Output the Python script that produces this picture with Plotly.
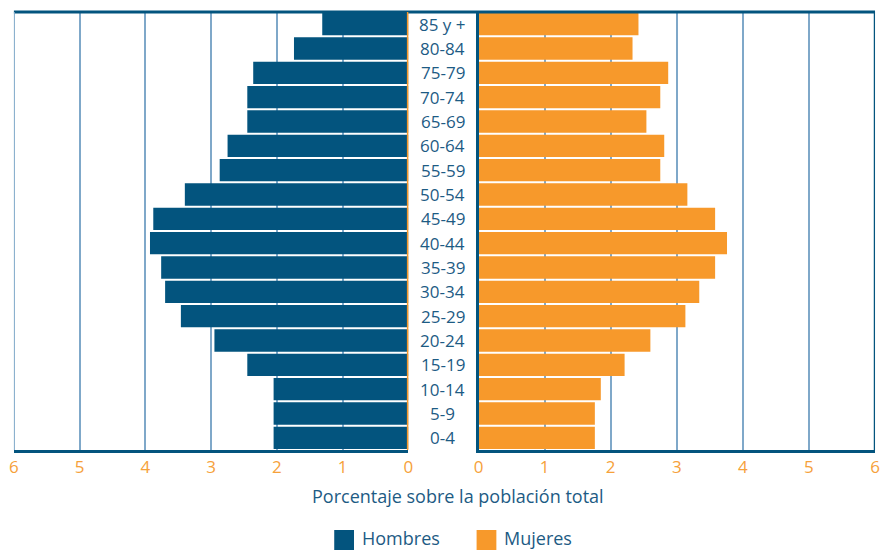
import plotly.graph_objects as go

# Age groups, bottom to top
grupos = ["0-4", "5-9", "10-14", "15-19", "20-24", "25-29", "30-34", "35-39",
          "40-44", "45-49", "50-54", "55-59", "60-64", "65-69", "70-74",
          "75-79", "80-84", "85 y +"]

# Percentage of total population
hombres = [2.05, 2.05, 2.05, 2.45, 2.95, 3.46, 3.70, 3.76, 3.93, 3.88,
           3.40, 2.87, 2.75, 2.45, 2.45, 2.36, 1.74, 1.31]
mujeres = [1.76, 1.76, 1.85, 2.21, 2.60, 3.13, 3.34, 3.58, 3.76, 3.58,
           3.16, 2.75, 2.81, 2.54, 2.75, 2.87, 2.33, 2.42]

ticks = [0, 1, 2, 3, 4, 5, 6]

AZUL = "#03547e"
NARANJA = "#f7992b"
GRID = "#7fa8c9"
TEXTO = "#1d5b84"
TICK = "#f6a13a"
FONT = "Open Sans"

W, H = 882, 551
T, B = 12, 101
PH = H - T - B


def py(pix):
    """Convert a pixel row into paper y."""
    return (H - B - pix) / PH


fig = go.Figure()
fig.add_trace(go.Bar(y=grupos, x=hombres, orientation="h", marker_color=AZUL,
                     marker_line_width=0, xaxis="x", yaxis="y", showlegend=False))
fig.add_trace(go.Bar(y=grupos, x=mujeres, orientation="h", marker_color=NARANJA,
                     marker_line_width=0, xaxis="x2", yaxis="y2", showlegend=False))

axis_common = dict(
    tickvals=ticks, ticktext=[str(t) for t in ticks],
    tickfont=dict(family=FONT, size=17, color=TICK),
    showgrid=True, gridcolor=GRID, gridwidth=1.5, zeroline=False,
    showline=True, linecolor=AZUL, linewidth=3, ticks="", fixedrange=True,
)

fig.update_layout(
    width=W, height=H,
    margin=dict(l=0, r=0, t=T, b=B),
    paper_bgcolor="white", plot_bgcolor="white",
    bargap=0.08,
    xaxis=dict(domain=[9 / W, 408 / W], range=[6, 0], anchor="y", **axis_common),
    xaxis2=dict(domain=[479 / W, 880 / W], range=[0, 6], anchor="y2", **axis_common),
    yaxis=dict(categoryorder="array", categoryarray=grupos, range=[-0.5, 17.5],
               showticklabels=False, showgrid=False, zeroline=False, anchor="x"),
    yaxis2=dict(categoryorder="array", categoryarray=grupos, range=[-0.5, 17.5],
                showticklabels=False, showgrid=False, zeroline=False, anchor="x2",
                showline=True, linecolor=AZUL, linewidth=3),
    font=dict(family=FONT),
)

shapes = [
    # top border across both panels
    dict(type="line", xref="paper", yref="paper", x0=9 / W, x1=880 / W, y0=1, y1=1,
         line=dict(color=AZUL, width=3)),
    # left panel outer edge
    dict(type="line", xref="x", yref="paper", x0=6, x1=6, y0=0, y1=1,
         line=dict(color=GRID, width=2)),
    # left panel zero line
    dict(type="line", xref="x", yref="paper", x0=0, x1=0, y0=0, y1=1,
         line=dict(color=NARANJA, width=3), layer="above"),
    # right panel outer edge
    dict(type="line", xref="x2", yref="paper", x0=6, x1=6, y0=0, y1=1,
         line=dict(color=AZUL, width=2.5)),
]

annotations = []
for g in grupos:
    annotations.append(dict(x=443 / W, xref="paper", y=g, yref="y", text=g,
                            showarrow=False, xanchor="center", yanchor="middle",
                            font=dict(family=FONT, size=17, color=TEXTO)))

annotations.append(dict(x=458 / W, xref="paper", y=py(496), yref="paper",
                        text="Porcentaje sobre la población total", showarrow=False,
                        xanchor="center", yanchor="middle",
                        font=dict(family=FONT, size=18, color=TEXTO)))

# legend swatches and labels
for x0, color, label in [(333, AZUL, "Hombres"), (477, NARANJA, "Mujeres")]:
    shapes.append(dict(type="rect", xref="paper", yref="paper",
                       x0=x0 / W, x1=(x0 + 20) / W, y0=py(550), y1=py(530),
                       fillcolor=color, line=dict(width=0)))
    annotations.append(dict(x=(x0 + 26) / W, xref="paper", y=py(538), yref="paper",
                            text=label, showarrow=False, xanchor="left", yanchor="middle",
                            font=dict(family=FONT, size=18, color=TEXTO)))

fig.update_layout(shapes=shapes, annotations=annotations)

fig.write_html("out.html")
